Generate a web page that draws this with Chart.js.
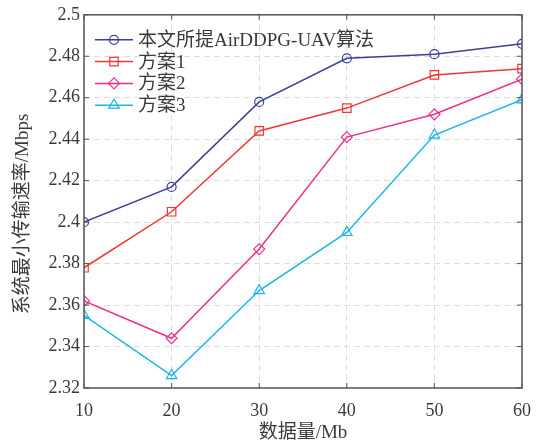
<!DOCTYPE html>
<html lang="zh">
<head>
<meta charset="UTF-8">
<title>系统最小传输速率</title>
<script src="https://cdn.jsdelivr.net/npm/chart.js"></script>
<style>
  html, body { margin: 0; padding: 0; background: #fff; }
  #wrap { width: 537px; height: 446px; }
</style>
</head>
<body>
<div id="wrap"><canvas id="rateChart" width="537" height="446"></canvas></div>
<script>
const dataSizes = [10, 20, 30, 40, 50, 60];
const yTickValues = [2.32, 2.34, 2.36, 2.38, 2.40, 2.42, 2.44, 2.46, 2.48, 2.50];
const oursRate = [2.400, 2.417, 2.458, 2.479, 2.481, 2.486];
const plan1Rate = [2.378, 2.405, 2.444, 2.455, 2.471, 2.474];
const plan2Rate = [2.362, 2.344, 2.387, 2.441, 2.452, 2.469];
const plan3Rate = [2.355, 2.326, 2.367, 2.395, 2.442, 2.459];
const seriesNames = ['本文所提AirDDPG-UAV算法', '方案1', '方案2', '方案3'];
const yTitle = '系统最小传输速率/Mbps';

const font = "'Liberation Serif', 'Noto Sans CJK SC', serif";
const textColor = '#3a3a3a';

function mkSet(name, vals, color, shape, r) {
  return {
    label: name,
    data: vals.map((v, i) => ({ x: dataSizes[i], y: v })),
    borderColor: color,
    backgroundColor: 'rgba(255,255,255,0)',
    borderWidth: 1.5,
    pointStyle: shape,
    pointRadius: r,
    pointBorderWidth: 1.2,
    pointBorderColor: color,
    tension: 0
  };
}

// box, inward ticks, y title and legend
const frame = {
  id: 'frame',
  afterDatasetsDraw(chart) {
    const { ctx, chartArea: a, scales } = chart;
    ctx.save();
    ctx.strokeStyle = '#555';
    ctx.lineWidth = 1.5;
    ctx.strokeRect(a.left, a.top, a.right - a.left, a.bottom - a.top);
    ctx.lineWidth = 1;
    scales.y.ticks.forEach(t => {
      const y = scales.y.getPixelForValue(t.value);
      ctx.beginPath();
      ctx.moveTo(a.left, y); ctx.lineTo(a.left + 5, y);
      ctx.moveTo(a.right, y); ctx.lineTo(a.right - 5, y);
      ctx.stroke();
    });
    scales.x.ticks.forEach(t => {
      const x = scales.x.getPixelForValue(t.value);
      ctx.beginPath();
      ctx.moveTo(x, a.bottom); ctx.lineTo(x, a.bottom - 5);
      ctx.moveTo(x, a.top); ctx.lineTo(x, a.top + 5);
      ctx.stroke();
    });

    // y title
    ctx.fillStyle = textColor;
    ctx.font = '19px ' + font;
    ctx.textAlign = 'center';
    ctx.textBaseline = 'middle';
    ctx.translate(23, 214);
    ctx.rotate(-Math.PI / 2);
    ctx.fillText(yTitle, 0, 0);
    ctx.setTransform(1, 0, 0, 1, 0, 0);

    // legend
    const lx = a.left + 11, rowH = 21.8;
    ctx.font = '19px ' + font;
    ctx.textAlign = 'left';
    chart.data.datasets.forEach((ds, i) => {
      const y = a.top + 25 + rowH * i;
      ctx.strokeStyle = ds.borderColor;
      ctx.lineWidth = 1.5;
      ctx.beginPath();
      ctx.moveTo(lx, y); ctx.lineTo(lx + 38, y);
      ctx.stroke();
      ctx.lineWidth = 1.2;
      ctx.fillStyle = 'rgba(255,255,255,0)';
      Chart.helpers.drawPoint(ctx, { pointStyle: ds.pointStyle, radius: ds.pointRadius, rotation: 0, borderWidth: 1.2 }, lx + 19, y);
      ctx.fillStyle = textColor;
      ctx.fillText(ds.label, lx + 43, y + 1);
    });
    ctx.restore();
  }
};

new Chart(document.getElementById('rateChart'), {
  type: 'line',
  data: {
    datasets: [
      mkSet(seriesNames[0], oursRate, '#3b3f98', 'circle', 4.5),
      mkSet(seriesNames[1], plan1Rate, '#ef3535', 'rect', 6),
      mkSet(seriesNames[2], plan2Rate, '#ea2f8c', 'rectRot', 5.5),
      mkSet(seriesNames[3], plan3Rate, '#1ab4ea', 'triangle', 6)
    ]
  },
  options: {
    responsive: false,
    animation: false,
    layout: { padding: { top: 12, right: 15, left: 0, bottom: 0 } },
    plugins: { legend: { display: false }, tooltip: { enabled: false } },
    scales: {
      x: {
        type: 'linear',
        min: 10, max: 60,
        afterBuildTicks: s => { s.ticks = dataSizes.map(v => ({ value: v })); },
        afterFit: s => { s.height = 58; s.paddingLeft = 0; s.paddingRight = 0; },
        grid: { color: '#dcdcdc', drawTicks: false, lineWidth: 1 },
        border: { display: false, dash: [6, 4] },
        ticks: { color: textColor, font: { family: font, size: 18 }, padding: 12 },
        title: { display: true, text: '数据量/Mb', color: textColor, font: { family: font, size: 19 }, padding: { top: 0, bottom: 2 } }
      },
      y: {
        min: 2.32, max: 2.5,
        afterBuildTicks: s => { s.ticks = yTickValues.map(v => ({ value: v })); },
        afterFit: s => { s.width = 84; },
        grid: { color: '#dcdcdc', drawTicks: false, lineWidth: 1 },
        border: { display: false, dash: [6, 4] },
        ticks: {
          color: textColor, font: { family: font, size: 18 }, padding: 4,
          callback: v => String(Number(v.toFixed(2)))
        }
      }
    }
  },
  plugins: [frame]
});
</script>
</body>
</html>
